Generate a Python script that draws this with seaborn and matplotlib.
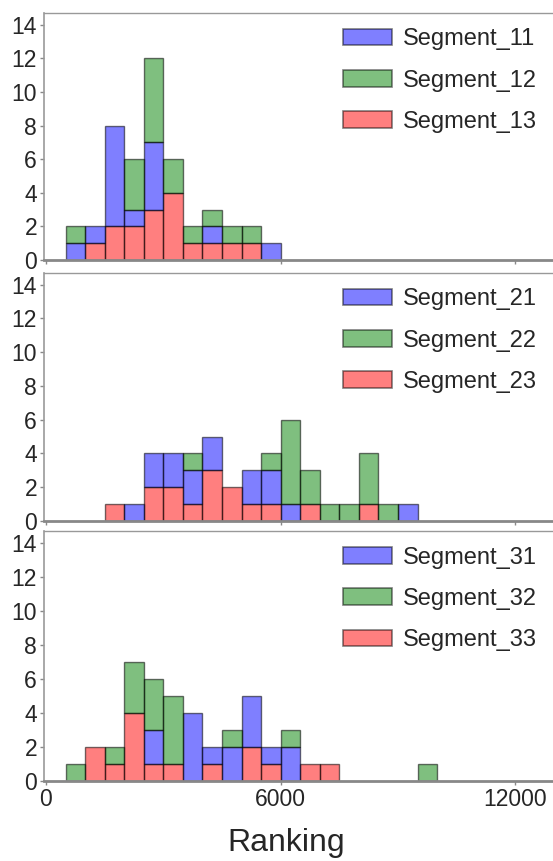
import numpy as np
import pandas as pd
import matplotlib
matplotlib.use("Agg")
import matplotlib.pyplot as plt
from matplotlib.patches import Patch
import seaborn as sns

# bin edges (width 500) and counts per bin for each segment
edges_1 = list(range(500, 6001, 500))
seg_11 = [1, 1, 6, 1, 4, 0, 0, 1, 0, 0, 1]
seg_12 = [1, 0, 0, 3, 5, 2, 1, 1, 1, 1, 0]
seg_13 = [0, 1, 2, 2, 3, 4, 1, 1, 1, 1, 0]

edges_2 = list(range(1500, 9501, 500))
seg_21 = [0, 1, 2, 2, 2, 2, 0, 2, 2, 1, 0, 0, 0, 0, 0, 1]
seg_22 = [0, 0, 0, 0, 1, 0, 0, 0, 1, 5, 2, 1, 1, 3, 1, 0]
seg_23 = [1, 0, 2, 2, 1, 3, 2, 1, 1, 0, 1, 0, 0, 1, 0, 0]

edges_3 = list(range(500, 10001, 500))
seg_31 = [0, 0, 0, 0, 2, 0, 4, 1, 2, 3, 1, 2, 0, 0, 0, 0, 0, 0, 0]
seg_32 = [1, 0, 1, 3, 3, 4, 0, 0, 1, 0, 0, 1, 0, 0, 0, 0, 0, 0, 1]
seg_33 = [0, 2, 1, 4, 1, 1, 0, 1, 0, 2, 1, 0, 1, 1, 0, 0, 0, 0, 0]

panels = [
    (edges_1, ["Segment_11", "Segment_12", "Segment_13"], [seg_11, seg_12, seg_13]),
    (edges_2, ["Segment_21", "Segment_22", "Segment_23"], [seg_21, seg_22, seg_23]),
    (edges_3, ["Segment_31", "Segment_32", "Segment_33"], [seg_31, seg_32, seg_33]),
]
seg_colors = ["blue", "green", "red"]
edge_col = (0, 0, 0, 0.55)

sns.set_style("white")
plt.rcParams["font.family"] = ["Liberation Sans", "DejaVu Sans"]


def make_df(edges, names, counts):
    e = np.asarray(edges, dtype=float)
    centers = (e[:-1] + e[1:]) / 2
    rows = []
    for name, cnt in zip(names, counts):
        for c, n in zip(centers, cnt):
            rows.append({"Ranking": c, "Segment": name, "Count": n})
    return pd.DataFrame(rows)


fig = plt.figure(figsize=(5.53, 8.61), dpi=100)
axes_pos = [
    [0.0796, 0.698, 0.9194, 0.287],
    [0.0796, 0.395, 0.9194, 0.288],
    [0.0796, 0.093, 0.9194, 0.290],
]

for i, (edges, names, counts) in enumerate(panels):
    ax = fig.add_axes(axes_pos[i])
    df = make_df(edges, names, counts)
    palette = dict(zip(names, seg_colors))
    # red at the bottom, blue in the middle, green on top
    sns.histplot(data=df, x="Ranking", weights="Count", hue="Segment",
                 hue_order=[names[1], names[0], names[2]], palette=palette,
                 bins=edges, multiple="stack", alpha=0.5, edgecolor=edge_col,
                 linewidth=1, legend=False, ax=ax)
    for p in list(ax.patches):
        if p.get_height() == 0:
            p.remove()

    ax.set_xlim(-50, 12950)
    ax.set_ylim(0, 14.7)
    ax.set_yticks(range(0, 15, 2))
    ax.set_xticks([0, 6000, 12000])
    ax.set_ylabel("")
    ax.tick_params(axis="both", labelsize=16.5, length=3, width=1, color="#888888",
                   pad=2, direction="out")
    ax.tick_params(axis="y", left=True)
    ax.tick_params(axis="x", bottom=True)
    ax.spines["right"].set_visible(False)
    ax.spines["top"].set_color("#999999")
    ax.spines["top"].set_linewidth(1)
    ax.spines["left"].set_color("#999999")
    ax.spines["left"].set_linewidth(1.2)
    ax.spines["bottom"].set_color("#888888")
    ax.spines["bottom"].set_linewidth(2)

    if i < 2:
        ax.set_xticklabels([])
        ax.set_xlabel("")
    else:
        ax.set_xlabel("Ranking", fontsize=23)
        ax.xaxis.set_label_coords(0.477, -0.19)

    handles = [Patch(facecolor=c, edgecolor=edge_col, alpha=0.5, linewidth=1.2)
               for c in seg_colors]
    ax.legend(handles, names, loc="upper right", frameon=False, fontsize=17,
              handlelength=2.1, handleheight=0.72, handletextpad=0.45,
              labelspacing=0.82, borderaxespad=0.25)

fig.savefig("out.png", dpi=100)
